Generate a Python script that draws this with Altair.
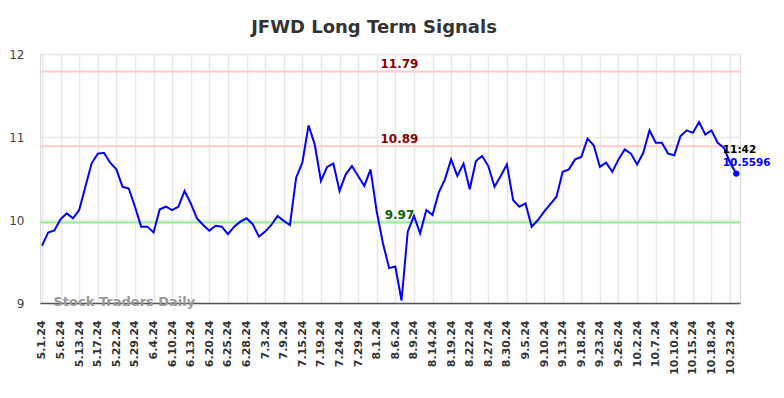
import altair as alt
import pandas as pd

# ---- data ----
prices = [
    9.69, 9.85, 9.875, 10.01, 10.08, 10.02, 10.12, 10.40, 10.68, 10.80,
    10.81, 10.69, 10.61, 10.40, 10.38, 10.16, 9.92, 9.92, 9.85, 10.13,
    10.16, 10.12, 10.16, 10.35, 10.20, 10.02, 9.94, 9.87, 9.93, 9.92,
    9.83, 9.92, 9.98, 10.02, 9.95, 9.80, 9.86, 9.94, 10.05, 9.99,
    9.94, 10.51, 10.69, 11.14, 10.91, 10.47, 10.64, 10.68, 10.35, 10.55,
    10.65, 10.53, 10.41, 10.61, 10.10, 9.72, 9.42, 9.44, 9.03, 9.86,
    10.05, 9.84, 10.12, 10.06, 10.33, 10.49, 10.73, 10.53, 10.68, 10.37,
    10.71, 10.77, 10.65, 10.40, 10.53, 10.67, 10.24, 10.16, 10.20, 9.92,
    10.00, 10.10, 10.19, 10.28, 10.58, 10.61, 10.73, 10.76, 10.98, 10.90,
    10.64, 10.69, 10.58, 10.73, 10.85, 10.80, 10.67, 10.81, 11.08, 10.93,
    10.93, 10.80, 10.78, 11.01, 11.08, 11.05, 11.18, 11.03, 11.08, 10.93,
    10.87, 10.69, 10.5596,
]
tick_labels = [
    "5.1.24", "5.6.24", "5.13.24", "5.17.24", "5.22.24", "5.29.24", "6.4.24",
    "6.10.24", "6.13.24", "6.20.24", "6.25.24", "6.28.24", "7.3.24", "7.9.24",
    "7.15.24", "7.19.24", "7.24.24", "7.29.24", "8.1.24", "8.6.24", "8.9.24",
    "8.14.24", "8.19.24", "8.22.24", "8.27.24", "8.30.24", "9.5.24", "9.10.24",
    "9.13.24", "9.18.24", "9.23.24", "9.26.24", "10.2.24", "10.7.24",
    "10.10.24", "10.15.24", "10.18.24", "10.23.24",
]
tick_step = 3
y_ticks = [9, 10, 11, 12]
levels = [11.79, 10.89, 9.97]
level_labels = ["11.79", "10.89", "9.97"]
level_line_colors = ["#ffcccc", "#ffcccc", "#90ee90"]
level_text_colors = ["#8b0000", "#8b0000", "#006400"]
last_time = "11:42"
last_value_text = "10.5596"

df = pd.DataFrame({"idx": list(range(len(prices))), "price": prices})
lv = pd.DataFrame({"level": levels, "label": level_labels,
                   "lc": level_line_colors, "tc": level_text_colors})
last = df.tail(1).copy()
last["t1"] = last_time
last["t2"] = last_value_text

tick_vals = [i * tick_step for i in range(len(tick_labels))]
label_expr = "[" + ",".join("'%s'" % s for s in tick_labels) + "][round(datum.value/%d)]" % tick_step

xscale = alt.Scale(domain=[-0.32, 112.6], nice=False, zero=False)
yscale = alt.Scale(domain=[9, 12], nice=False, zero=False)

x_axis = alt.Axis(values=tick_vals, labelExpr=label_expr, labelAngle=-90,
                  labelFontSize=11, labelFontWeight="bold", labelColor="#333333",
                  labelPadding=17, labelOverlap=False, labelBound=False,
                  tickCount=len(tick_vals),
                  ticks=False, domain=True, domainColor="#555555",
                  domainWidth=1.5, grid=True, gridColor="#e8e8e8", gridWidth=1.5,
                  title=None, labelFont="DejaVu Sans")
y_axis = alt.Axis(values=y_ticks, format="d", labelFontSize=12, labelColor="#444444",
                  labelPadding=16, ticks=False, domain=False, grid=True,
                  labelOverlap=False, gridColor="#e8e8e8", gridWidth=1.5, title=None,
                  labelFont="DejaVu Sans")

X = lambda: alt.X("idx:Q", scale=xscale, axis=x_axis)
Y = lambda f="price:Q": alt.Y(f, scale=yscale, axis=y_axis)

line = alt.Chart(df).mark_line(color="#0000ff", strokeWidth=2).encode(x=X(), y=Y())

rules = alt.Chart(lv).mark_rule(strokeWidth=2).encode(
    y=Y("level:Q"),
    color=alt.Color("lc:N", scale=None),
)

rule_text = alt.Chart(lv).mark_text(
    fontSize=12, fontWeight="bold", font="DejaVu Sans", baseline="alphabetic",
    align="center", dy=-3.5,
).encode(
    x=alt.value(359.5),
    y=Y("level:Q"),
    text="label:N",
    color=alt.Color("tc:N", scale=None),
)

watermark = alt.Chart(pd.DataFrame({"t": ["Stock Traders Daily"]})).mark_text(
    fontSize=13, fontWeight="bold", font="DejaVu Sans", color="#999999",
    align="left", baseline="alphabetic",
).encode(x=alt.value(13.5), y=alt.value(251.5), text="t:N")

dot = alt.Chart(last).mark_circle(size=40, color="#0000ff", opacity=1).encode(x=X(), y=Y())

t1 = alt.Chart(last).mark_text(
    fontSize=10.5, fontWeight="bold", font="DejaVu Sans", color="#000000",
    align="left", baseline="alphabetic", dx=-13.5, dy=-20.5,
).encode(x=X(), y=Y(), text="t1:N")

t2 = alt.Chart(last).mark_text(
    fontSize=10.5, fontWeight="bold", font="DejaVu Sans", color="#0000ff",
    align="left", baseline="alphabetic", dx=-13.5, dy=-8,
).encode(x=X(), y=Y(), text="t2:N")

chart = alt.layer(rules, rule_text, line, watermark, dot, t1, t2).properties(
    width=700, height=249,
    padding={"left": 32, "top": 46, "right": 36, "bottom": 80},
    autosize="none",
    title=alt.TitleParams("JFWD Long Term Signals", fontSize=18, fontWeight="bold",
                          color="#333333", font="DejaVu Sans", anchor="middle",
                          frame="group", baseline="alphabetic", offset=-3, dx=-16),
).configure_view(stroke=None).configure(background="white")

chart.save("out.html", embed_options={"renderer": "svg", "actions": False})
